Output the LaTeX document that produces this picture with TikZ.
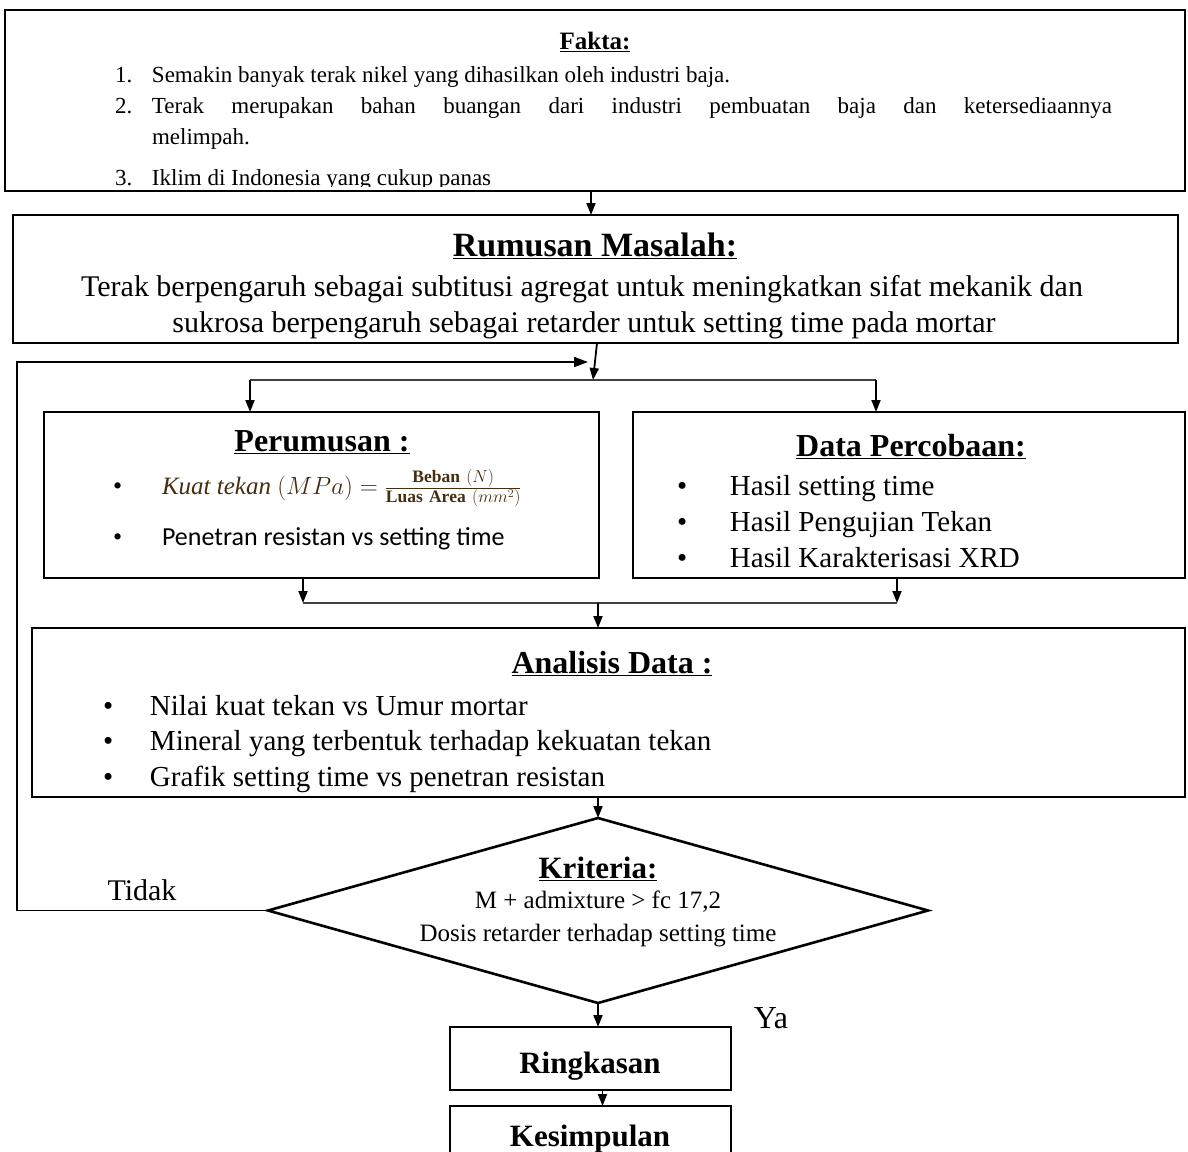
\documentclass[tikz,border=0pt]{standalone}
\usepackage{fontspec}
\setmainfont{Liberation Serif}
\newfontfamily\calibrifont{Carlito}
\usetikzlibrary{arrows.meta,shapes.geometric}
\definecolor{formulaink}{RGB}{70,45,15}
\newcommand{\fsz}[1]{\fontsize{#1}{#1}\selectfont}

\begin{document}
\begin{tikzpicture}[x=1pt, y=-1pt]
    \tikzstyle{every node} = [inner sep=0pt, outer sep=0pt]
    \tikzstyle{box} = [draw, line width=2.6pt]
    \tikzstyle{conn} = [line width=1.8pt]
    \tikzstyle{thinconn} = [line width=1.2pt, black!75]
    \tikzstyle{flowarrow} = [conn, -{Triangle[length=12pt, width=9pt]}]
    \tikzstyle{title} = [anchor=base, font=\fsz{32}\bfseries]
    \tikzstyle{item} = [anchor=base west, font=\fsz{29}]
    \tikzstyle{fact} = [anchor=base west, font=\fsz{23}]
    \useasboundingbox (0,0) rectangle (1188,1151);

    \node[box, minimum width=1180pt, minimum height=181pt] (fakta) at (595,100.5) {};
    \node[box, minimum width=1165pt, minimum height=128pt] (rumusan) at (595.5,279) {};
    \node[box, minimum width=555pt, minimum height=166pt] (perumusan) at (321.5,495) {};
    \node[box, minimum width=552pt, minimum height=166pt] (data) at (909,495) {};
    \node[box, minimum width=1153pt, minimum height=169pt] (analisis) at (608.5,712.5) {};
    \node[box, diamond, aspect=3.57, minimum width=660pt, minimum height=185pt] (kriteria) at (598,910.5) {};
    \node[box, minimum width=281pt, minimum height=63pt] (ringkasan) at (590.5,1058.5) {};
    \node[box, minimum width=281pt, minimum height=70pt] (kesimpulan) at (590.5,1141) {};

    \begin{scope}
        \clip (fakta.north west) rectangle ([yshift=5pt]fakta.south east);
        \node[anchor=base, font=\fsz{25}\bfseries] (faktaTitle) at (595,49) {\underline{Fakta:}};
        \node[fact] (fakta1) at (115,82) {\makebox[37pt][l]{1.}Semakin banyak terak nikel yang dihasilkan oleh industri baja.};
        \node[fact] (fakta2) at (115,113) {\makebox[37pt][l]{2.}\makebox[960pt][s]{Terak merupakan bahan buangan dari industri pembuatan baja dan ketersediaannya}};
        \node[fact] (fakta2b) at (152,144) {melimpah.};
        \node[fact] (fakta3) at (115,185) {\makebox[37pt][l]{3.}Iklim di Indonesia yang cukup panas};
    \end{scope}

    \begin{scope}
        \clip (rumusan.north west) rectangle ([yshift=5pt]rumusan.south east);
        \node[title, font=\fsz{34}\bfseries] (rumusanTitle) at (595,256) {\underline{Rumusan Masalah:}};
        \node[anchor=base, font=\fsz{30}] (rumusan1) at (582,296) {Terak berpengaruh sebagai subtitusi agregat untuk meningkatkan sifat mekanik dan};
        \node[anchor=base, font=\fsz{30}] (rumusan2) at (584,332) {sukrosa berpengaruh sebagai retarder untuk setting time pada mortar};
    \end{scope}

    \node[title] (perumusanTitle) at (322,451) {\underline{Perumusan :}};
    \node[anchor=base west, font=\fsz{25}] (perumusan1) at (113,494) {\makebox[49pt][l]{\fsz{26}\textbullet}{\color{formulaink}$\mathit{Kuat\ tekan}\ (MPa) = \frac{\mathbf{Beban}\ (N)}{\mathbf{Luas\ Area}\ (mm^2)}$}};
    \node[anchor=base west, font=\fsz{26}] (perumusan2) at (113,545) {\makebox[49pt][l]{\textbullet}{\calibrifont Penetran resistan vs setting time}};

    \node[title] (dataTitle) at (911,456) {\underline{Data Percobaan:}};
    \node[item] (data1) at (677,495) {\makebox[53pt][l]{\textbullet}Hasil setting time};
    \node[item] (data2) at (677,531) {\makebox[53pt][l]{\textbullet}Hasil Pengujian Tekan};
    \node[item] (data3) at (677,567) {\makebox[53pt][l]{\textbullet}Hasil Karakterisasi XRD};

    \begin{scope}
        \clip (analisis.north west) rectangle ([yshift=5pt]analisis.south east);
        \node[title] (analisisTitle) at (612,673) {\underline{Analisis Data :}};
        \node[item] (analisis1) at (103,715) {\makebox[47pt][l]{\textbullet}Nilai kuat tekan vs Umur mortar};
        \node[item] (analisis2) at (103,750) {\makebox[47pt][l]{\textbullet}Mineral yang terbentuk terhadap kekuatan tekan};
        \node[item] (analisis3) at (103,786) {\makebox[47pt][l]{\textbullet}Grafik setting time vs penetran resistan};
    \end{scope}

    \node[anchor=base, font=\fsz{31}\bfseries] (kriteriaTitle) at (598,878) {\underline{Kriteria:}};
    \node[anchor=base, font=\fsz{25}] (kriteria1) at (598,908) {M + admixture > fc 17,2};
    \node[anchor=base, font=\fsz{25}] (kriteria2) at (598,941) {Dosis retarder terhadap setting time};

    \node[anchor=base, font=\fsz{30}] (tidak) at (142,900) {Tidak};
    \node[anchor=base, font=\fsz{32}] (ya) at (771,1028) {Ya};

    \begin{scope}
        \clip (ringkasan.north west) rectangle ([yshift=5pt]ringkasan.south east);
        \node[anchor=base, font=\fsz{31}\bfseries] (ringkasanText) at (590,1073) {Ringkasan};
    \end{scope}
    \node[anchor=base, font=\fsz{31}\bfseries] (kesimpulanText) at (590,1146) {Kesimpulan};

    \coordinate (split) at (593,380);
    \coordinate (splitL) at (250,380);
    \coordinate (splitR) at (876,380);
    \coordinate (mergeL) at (303,603);
    \coordinate (mergeR) at (897,603);
    \coordinate (merge) at (598,603);
    \coordinate (loopB) at (17,362);
    \coordinate (loopC) at (588,362);

    \draw[flowarrow] ([xshift=-4pt]fakta.south) -- ([xshift=-4pt]fakta.south |- rumusan.north);
    \draw[flowarrow] ([xshift=1.5pt]rumusan.south) -- (split);
    \draw[thinconn] (splitL) -- (splitR);
    \draw[flowarrow] (splitL) -- (splitL |- perumusan.north);
    \draw[flowarrow] (splitR) -- (splitR |- data.north);
    \draw[flowarrow] (perumusan.south -| mergeL) -- (mergeL);
    \draw[flowarrow] (data.south -| mergeR) -- (mergeR);
    \draw[thinconn] (mergeL) -- (mergeR);
    \draw[flowarrow] (merge) -- (merge |- analisis.north);
    \draw[flowarrow] (analisis.south -| kriteria.north) -- (kriteria.north);
    \draw[flowarrow] (kriteria.south) -- (kriteria.south |- ringkasan.north);
    \draw[flowarrow] ([xshift=12pt]ringkasan.south) -- ([xshift=12pt]kesimpulan.north);
    \draw[conn, -{Triangle[length=14pt, width=10pt]}] (kriteria.west) -- (kriteria.west -| loopB) -- (loopB) -- (loopC);
\end{tikzpicture}
\end{document}
